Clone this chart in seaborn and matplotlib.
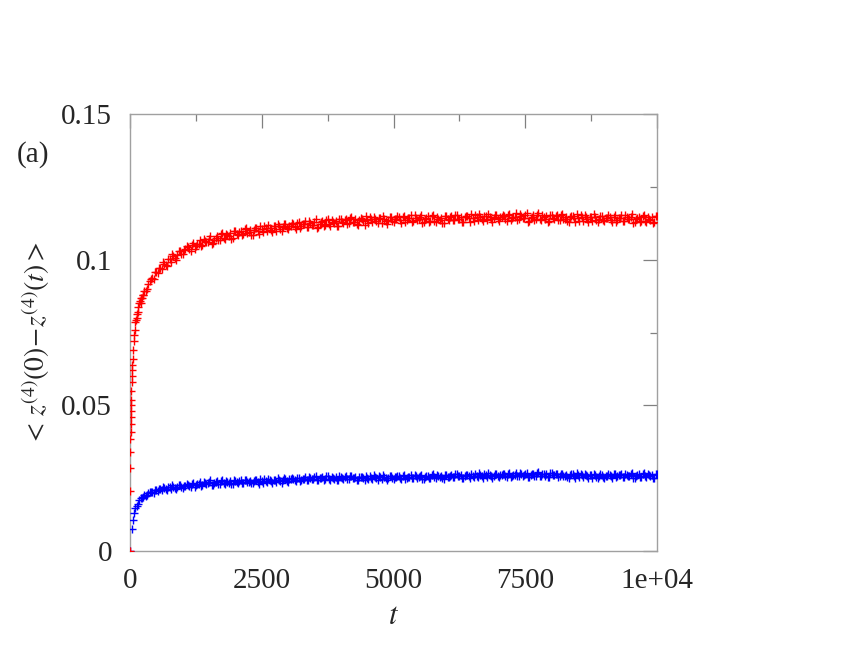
import numpy as np
import pandas as pd
import matplotlib
matplotlib.use("Agg")
import matplotlib.pyplot as plt
import seaborn as sns

# ---------------- data ----------------
t_red_early = [0, 2, 4, 6, 8, 10, 12, 14, 16, 18, 20, 25, 30, 35, 40, 45, 50, 60, 70, 80, 90,
               110, 140, 160, 190, 210, 240]
red_early = [0.0, 0.0206, 0.0285, 0.0340, 0.0385, 0.0410, 0.0436, 0.0460, 0.0480, 0.0500,
             0.0520, 0.0550, 0.0580, 0.0600, 0.0620, 0.0640, 0.0660, 0.0690, 0.0720, 0.0740, 0.0760,
             0.0792, 0.0815, 0.0838, 0.0858, 0.0851, 0.0880]

t_blue_early = [0, 40, 60, 80]
blue_early = [0.0, 0.0075, 0.0106, 0.0130]

# sampling grids: every 50 time units (two interleaved sets)
t_main_a = np.arange(100, 10001, 50)   # 100, 150, ..., 10000
t_main_b = np.arange(125, 10000, 50)   # 125, 175, ..., 9975

red_a = [
    0.0786, 0.0821, 0.0869, 0.0879, 0.0892, 0.0918, 0.0935, 0.0933, 0.0956, 0.0972,
    0.0967, 0.0986, 0.0979, 0.1004, 0.1019, 0.1006, 0.1016, 0.1031, 0.1018, 0.1035,
    0.1043, 0.1029, 0.1057, 0.1046, 0.1055, 0.1047, 0.1071, 0.1059, 0.1072, 0.1053,
    0.1069, 0.1081, 0.1069, 0.1093, 0.1070, 0.1083, 0.1090, 0.1074, 0.1097, 0.1086,
    0.1100, 0.1087, 0.1107, 0.1094, 0.1086, 0.1103, 0.1107, 0.1087, 0.1104, 0.1114,
    0.1097, 0.1109, 0.1096, 0.1115, 0.1124, 0.1106, 0.1111, 0.1121, 0.1104, 0.1117,
    0.1121, 0.1104, 0.1129, 0.1115, 0.1121, 0.1111, 0.1133, 0.1119, 0.1129, 0.1108,
    0.1122, 0.1133, 0.1118, 0.1141, 0.1117, 0.1128, 0.1134, 0.1116, 0.1138, 0.1126,
    0.1140, 0.1125, 0.1145, 0.1130, 0.1122, 0.1137, 0.1141, 0.1120, 0.1136, 0.1145,
    0.1128, 0.1139, 0.1125, 0.1143, 0.1151, 0.1133, 0.1137, 0.1146, 0.1128, 0.1140,
    0.1145, 0.1127, 0.1151, 0.1136, 0.1142, 0.1131, 0.1152, 0.1137, 0.1147, 0.1125,
    0.1139, 0.1149, 0.1133, 0.1154, 0.1128, 0.1139, 0.1144, 0.1127, 0.1149, 0.1137,
    0.1151, 0.1136, 0.1155, 0.1140, 0.1131, 0.1146, 0.1149, 0.1128, 0.1143, 0.1152,
    0.1136, 0.1147, 0.1132, 0.1150, 0.1158, 0.1139, 0.1143, 0.1152, 0.1134, 0.1146,
    0.1151, 0.1133, 0.1157, 0.1142, 0.1148, 0.1137, 0.1158, 0.1143, 0.1153, 0.1131,
    0.1143, 0.1153, 0.1138, 0.1160, 0.1135, 0.1146, 0.1151, 0.1133, 0.1154, 0.1141,
    0.1152, 0.1137, 0.1156, 0.1141, 0.1132, 0.1147, 0.1150, 0.1129, 0.1144, 0.1153,
    0.1134, 0.1145, 0.1130, 0.1148, 0.1156, 0.1137, 0.1141, 0.1150, 0.1132, 0.1144,
    0.1146, 0.1128, 0.1152, 0.1137, 0.1143, 0.1132, 0.1153, 0.1138, 0.1148, 0.1126,
    0.1138, 0.1148, 0.1133, 0.1155, 0.1130, 0.1141, 0.1146, 0.1128, 0.1149,
]

red_b = [
    0.0799, 0.0852, 0.0868, 0.0893, 0.0900, 0.0928, 0.0936, 0.0957, 0.0955, 0.0971,
    0.0991, 0.0983, 0.1001, 0.0992, 0.1011, 0.1000, 0.1029, 0.1020, 0.1032, 0.1046,
    0.1035, 0.1051, 0.1037, 0.1054, 0.1068, 0.1050, 0.1065, 0.1062, 0.1082, 0.1058,
    0.1075, 0.1066, 0.1087, 0.1073, 0.1089, 0.1080, 0.1072, 0.1098, 0.1088, 0.1096,
    0.1085, 0.1105, 0.1092, 0.1102, 0.1085, 0.1108, 0.1100, 0.1116, 0.1095, 0.1107,
    0.1118, 0.1103, 0.1115, 0.1100, 0.1114, 0.1098, 0.1122, 0.1108, 0.1116, 0.1126,
    0.1112, 0.1125, 0.1108, 0.1121, 0.1133, 0.1113, 0.1126, 0.1120, 0.1138, 0.1112,
    0.1128, 0.1116, 0.1136, 0.1121, 0.1135, 0.1125, 0.1115, 0.1140, 0.1129, 0.1135,
    0.1124, 0.1143, 0.1129, 0.1138, 0.1120, 0.1142, 0.1133, 0.1149, 0.1126, 0.1138,
    0.1148, 0.1133, 0.1143, 0.1127, 0.1141, 0.1124, 0.1147, 0.1132, 0.1140, 0.1149,
    0.1135, 0.1147, 0.1129, 0.1142, 0.1153, 0.1132, 0.1144, 0.1138, 0.1155, 0.1128,
    0.1144, 0.1131, 0.1149, 0.1132, 0.1146, 0.1135, 0.1126, 0.1151, 0.1140, 0.1147,
    0.1136, 0.1154, 0.1140, 0.1148, 0.1130, 0.1151, 0.1142, 0.1157, 0.1134, 0.1145,
    0.1157, 0.1141, 0.1151, 0.1135, 0.1148, 0.1131, 0.1154, 0.1139, 0.1146, 0.1155,
    0.1141, 0.1153, 0.1135, 0.1148, 0.1159, 0.1138, 0.1150, 0.1144, 0.1161, 0.1134,
    0.1147, 0.1135, 0.1154, 0.1138, 0.1152, 0.1141, 0.1131, 0.1155, 0.1143, 0.1149,
    0.1136, 0.1154, 0.1140, 0.1148, 0.1130, 0.1151, 0.1142, 0.1157, 0.1134, 0.1145,
    0.1154, 0.1138, 0.1148, 0.1132, 0.1145, 0.1128, 0.1151, 0.1136, 0.1143, 0.1152,
    0.1136, 0.1148, 0.1130, 0.1143, 0.1154, 0.1133, 0.1145, 0.1139, 0.1156, 0.1129,
    0.1143, 0.1131, 0.1150, 0.1134, 0.1148, 0.1137, 0.1127, 0.1151,
]

blue_a = [
    0.0148, 0.0163, 0.0182, 0.0185, 0.0188, 0.0198, 0.0203, 0.0199, 0.0208, 0.0214,
    0.0208, 0.0216, 0.0209, 0.0220, 0.0226, 0.0216, 0.0219, 0.0225, 0.0216, 0.0224,
    0.0227, 0.0218, 0.0232, 0.0225, 0.0229, 0.0224, 0.0238, 0.0231, 0.0238, 0.0226,
    0.0234, 0.0239, 0.0231, 0.0243, 0.0229, 0.0237, 0.0239, 0.0229, 0.0241, 0.0235,
    0.0242, 0.0234, 0.0245, 0.0237, 0.0232, 0.0241, 0.0243, 0.0231, 0.0241, 0.0246,
    0.0236, 0.0243, 0.0234, 0.0245, 0.0250, 0.0240, 0.0242, 0.0248, 0.0238, 0.0246,
    0.0248, 0.0239, 0.0252, 0.0245, 0.0248, 0.0243, 0.0255, 0.0247, 0.0253, 0.0242,
    0.0249, 0.0254, 0.0246, 0.0258, 0.0244, 0.0251, 0.0253, 0.0243, 0.0255, 0.0248,
    0.0256, 0.0248, 0.0258, 0.0250, 0.0245, 0.0253, 0.0255, 0.0243, 0.0252, 0.0257,
    0.0248, 0.0254, 0.0245, 0.0255, 0.0260, 0.0249, 0.0251, 0.0256, 0.0246, 0.0253,
    0.0257, 0.0247, 0.0260, 0.0252, 0.0255, 0.0249, 0.0261, 0.0252, 0.0258, 0.0246,
    0.0254, 0.0259, 0.0251, 0.0263, 0.0249, 0.0256, 0.0258, 0.0248, 0.0260, 0.0253,
    0.0262, 0.0254, 0.0264, 0.0256, 0.0251, 0.0259, 0.0261, 0.0249, 0.0258, 0.0263,
    0.0255, 0.0261, 0.0252, 0.0262, 0.0267, 0.0256, 0.0258, 0.0263, 0.0253, 0.0260,
    0.0264, 0.0254, 0.0267, 0.0259, 0.0262, 0.0256, 0.0268, 0.0259, 0.0265, 0.0253,
    0.0261, 0.0266, 0.0258, 0.0270, 0.0256, 0.0263, 0.0265, 0.0255, 0.0267, 0.0260,
    0.0264, 0.0256, 0.0266, 0.0258, 0.0253, 0.0261, 0.0263, 0.0251, 0.0260, 0.0265,
    0.0254, 0.0260, 0.0251, 0.0261, 0.0266, 0.0255, 0.0257, 0.0262, 0.0252, 0.0259,
    0.0262, 0.0252, 0.0265, 0.0257, 0.0260, 0.0254, 0.0266, 0.0257, 0.0263, 0.0251,
    0.0258, 0.0263, 0.0255, 0.0267, 0.0253, 0.0260, 0.0262, 0.0252, 0.0264,
]

blue_b = [
    0.0155, 0.0176, 0.0181, 0.0191, 0.0191, 0.0201, 0.0202, 0.0211, 0.0206, 0.0212,
    0.0220, 0.0213, 0.0219, 0.0212, 0.0221, 0.0212, 0.0226, 0.0219, 0.0224, 0.0230,
    0.0222, 0.0230, 0.0221, 0.0229, 0.0236, 0.0226, 0.0234, 0.0233, 0.0242, 0.0228,
    0.0237, 0.0230, 0.0241, 0.0232, 0.0240, 0.0234, 0.0229, 0.0242, 0.0236, 0.0240,
    0.0233, 0.0244, 0.0236, 0.0241, 0.0232, 0.0243, 0.0238, 0.0248, 0.0235, 0.0241,
    0.0248, 0.0239, 0.0245, 0.0236, 0.0245, 0.0235, 0.0249, 0.0241, 0.0246, 0.0251,
    0.0243, 0.0250, 0.0241, 0.0248, 0.0255, 0.0244, 0.0251, 0.0248, 0.0258, 0.0243,
    0.0252, 0.0245, 0.0256, 0.0247, 0.0254, 0.0248, 0.0243, 0.0256, 0.0249, 0.0253,
    0.0247, 0.0257, 0.0249, 0.0254, 0.0244, 0.0255, 0.0250, 0.0259, 0.0246, 0.0252,
    0.0260, 0.0251, 0.0256, 0.0247, 0.0255, 0.0245, 0.0258, 0.0250, 0.0254, 0.0259,
    0.0251, 0.0258, 0.0248, 0.0255, 0.0261, 0.0250, 0.0256, 0.0253, 0.0262, 0.0247,
    0.0258, 0.0251, 0.0262, 0.0253, 0.0260, 0.0254, 0.0249, 0.0262, 0.0255, 0.0259,
    0.0254, 0.0264, 0.0256, 0.0261, 0.0251, 0.0262, 0.0257, 0.0266, 0.0253, 0.0259,
    0.0267, 0.0258, 0.0263, 0.0254, 0.0262, 0.0252, 0.0265, 0.0257, 0.0261, 0.0266,
    0.0258, 0.0265, 0.0255, 0.0262, 0.0268, 0.0257, 0.0263, 0.0260, 0.0269, 0.0254,
    0.0263, 0.0256, 0.0267, 0.0258, 0.0265, 0.0259, 0.0254, 0.0267, 0.0260, 0.0264,
    0.0255, 0.0265, 0.0257, 0.0262, 0.0252, 0.0263, 0.0258, 0.0267, 0.0254, 0.0260,
    0.0265, 0.0256, 0.0261, 0.0252, 0.0260, 0.0250, 0.0263, 0.0255, 0.0259, 0.0264,
    0.0256, 0.0263, 0.0253, 0.0260, 0.0266, 0.0255, 0.0261, 0.0258, 0.0267, 0.0252,
    0.0261, 0.0254, 0.0265, 0.0256, 0.0263, 0.0257, 0.0252, 0.0265,
]

x_ticks = [0, 2500, 5000, 7500, 10000]
x_tick_labels = ["0", "2500", "5000", "7500", "1e+04"]
y_ticks = [0, 0.05, 0.1, 0.15]
y_tick_labels = ["0", "0.05", "0.1", "0.15"]

# ---------------- build tables ----------------
red_df = pd.DataFrame({"t": list(t_red_early) + list(t_main_a) + list(t_main_b),
                       "v": list(red_early) + list(red_a) + list(red_b)})
blue_df = pd.DataFrame({"t": list(t_blue_early) + list(t_main_a) + list(t_main_b),
                        "v": list(blue_early) + list(blue_a) + list(blue_b)})

# ---------------- style ----------------
sns.set_theme(style="white")
plt.rcParams["font.family"] = ["Liberation Serif", "DejaVu Serif"]
plt.rcParams["mathtext.fontset"] = "stix"

fig = plt.figure(figsize=(8.6, 6.64), dpi=100)
ax = fig.add_axes([130 / 860, 1 - 551 / 664, (657 - 130) / 860, (551 - 114) / 664])

mk = dict(marker="+", s=30, linewidth=1.0, legend=False, ax=ax, zorder=3)
sns.scatterplot(data=blue_df, x="t", y="v", color="#0000ff", **mk)
sns.scatterplot(data=red_df, x="t", y="v", color="#ff0000", **mk)

ax.set_xlim(0, 10000)
ax.set_ylim(0, 0.15)
ax.set_xticks(x_ticks)
ax.set_xticklabels(x_tick_labels)
ax.set_yticks(y_ticks)
ax.set_yticklabels(y_tick_labels)
ax.set_xticks([1250, 3750, 6250, 8750], minor=True)
ax.set_yticks([0.025, 0.075, 0.125], minor=True)

ax.tick_params(axis="both", which="major", direction="in", length=10, width=0.9,
               color="#808080", labelsize=21, top=True, right=True)
ax.tick_params(axis="both", which="minor", direction="in", length=5, width=0.9,
               color="#808080", top=True, right=True)
ax.tick_params(axis="y", which="major", pad=13)
ax.tick_params(axis="x", which="major", pad=12)

for sp in ax.spines.values():
    sp.set_color("#a0a0a0")
    sp.set_linewidth(1.0)
    sp.set_visible(True)

ax.set_xlabel(r"$t$", fontsize=22, labelpad=6)
ax.set_ylabel(r"$<\,z^{(4)}(0)\!-\!z^{(4)}(t)>$", fontsize=20, labelpad=4)
ax.yaxis.set_label_coords(-0.148, 0.475)

fig.text(17 / 860, 1 - 155 / 664, "(a)", fontsize=21, ha="left", va="center")

fig.savefig("out.png", dpi=100)
